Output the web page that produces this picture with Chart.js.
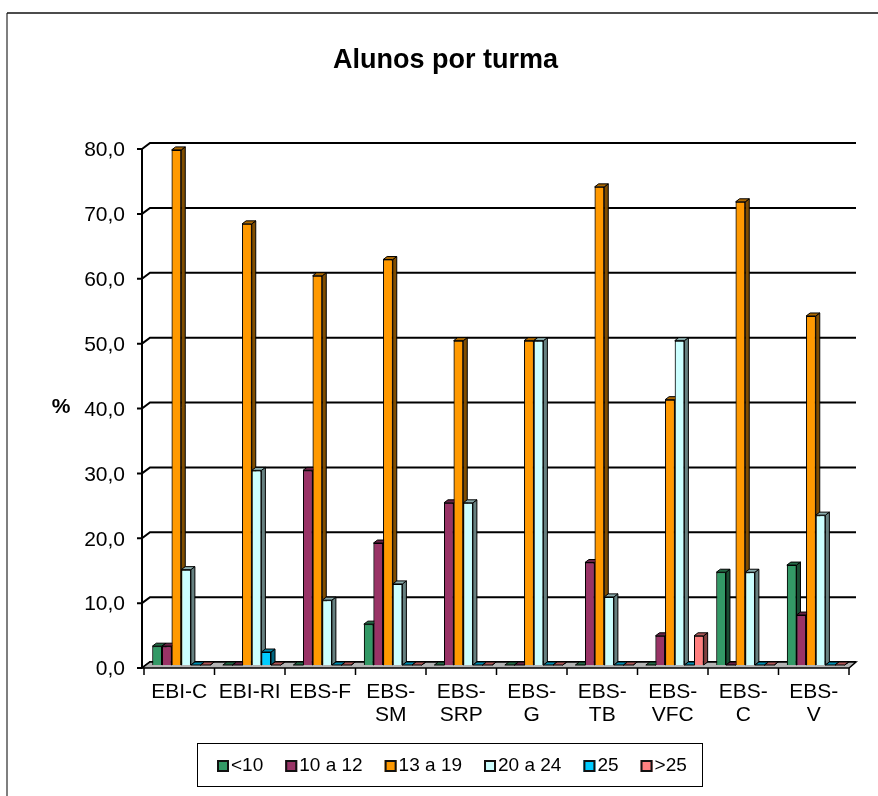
<!DOCTYPE html>
<html>
<head>
<meta charset="utf-8">
<title>Alunos por turma</title>
<script src="https://cdn.jsdelivr.net/npm/chart.js@4.4.1/dist/chart.umd.min.js"></script>
<style>
  html, body { margin: 0; padding: 0; background: #fff; }
  canvas { display: block; }
</style>
</head>
<body>
<canvas id="grafico" width="878" height="796"></canvas>
<script>
// Escolas (categorias) e percentagem de turmas por escalão de número de alunos
const escolas = [["EBI-C"], ["EBI-RI"], ["EBS-F"], ["EBS-", "SM"], ["EBS-", "SRP"], ["EBS-", "G"], ["EBS-", "TB"], ["EBS-", "VFC"], ["EBS-", "C"], ["EBS-", "V"]];
const escaloes = ["<10", "10 a 12", "13 a 19", "20 a 24", "25", ">25"];
const menos10 = [2.9, 0, 0, 6.3, 0, 0, 0, 0, 14.3, 15.4];
const de10a12 = [2.9, 0, 30.0, 18.8, 25.0, 0, 15.8, 4.5, 0, 7.7];
const de13a19 = [79.4, 68.0, 60.0, 62.5, 50.0, 50.0, 73.7, 40.9, 71.4, 53.8];
const de20a24 = [14.7, 30.0, 10.0, 12.5, 25.0, 50.0, 10.5, 50.0, 14.3, 23.1];
const igual25 = [0, 2.0, 0, 0, 0, 0, 0, 0, 0, 0];
const mais25 = [0, 0, 0, 0, 0, 0, 0, 4.5, 0, 0];
const marcasY = [0, 10, 20, 30, 40, 50, 60, 70, 80];
const cores = ["#339966", "#993366", "#FF9900", "#CCFFFF", "#00CCFF", "#FF8080"];

const series = [menos10, de10a12, de13a19, de20a24, igual25, mais25];

Chart.defaults.font.family = '"Liberation Sans", Arial, Helvetica, sans-serif';
Chart.defaults.color = '#000';

// escurece uma cor para as faces laterais e superiores das colunas
function sombra(hex, f) {
  const n = parseInt(hex.slice(1), 16);
  const r = (n >> 16) & 255, g = (n >> 8) & 255, b = n & 255;
  return 'rgb(' + Math.round(r * f) + ',' + Math.round(g * f) + ',' + Math.round(b * f) + ')';
}

const PX = 4, PY = 3;   // profundidade das colunas
const WX = 8, WY = 6;   // profundidade da parede e do chão

// moldura, parede de fundo, chão e eixos em perspetiva
const cenario = {
  id: 'cenario',
  beforeDraw(chart) {
    const ctx = chart.ctx;
    ctx.save();
    ctx.fillStyle = '#fff';
    ctx.fillRect(0, 0, chart.width, chart.height);
    ctx.strokeStyle = '#555';
    ctx.lineWidth = 1.5;
    ctx.beginPath();
    ctx.moveTo(7, chart.height);
    ctx.lineTo(7, 13);
    ctx.stroke();
    ctx.strokeStyle = '#111';
    ctx.beginPath();
    ctx.moveTo(7, 13);
    ctx.lineTo(chart.width, 13);
    ctx.stroke();
    ctx.restore();
  },
  beforeDatasetsDraw(chart) {
    const { ctx, chartArea: a, scales: { x, y } } = chart;
    const fx = a.left - 4;
    const bx = fx + WX;
    const fim = a.right + 5;
    const y0 = y.getPixelForValue(0);
    ctx.save();
    ctx.lineCap = 'butt';
    // linhas de grelha na parede de fundo
    ctx.strokeStyle = '#000';
    ctx.lineWidth = 2;
    marcasY.forEach(v => {
      const py = y.getPixelForValue(v);
      ctx.beginPath();
      ctx.moveTo(fx, py + WY / 2);
      ctx.lineTo(bx, py - WY / 2);
      ctx.lineTo(fim, py - WY / 2);
      ctx.stroke();
    });
    // chão
    ctx.beginPath();
    ctx.moveTo(fx, y0 + WY / 2);
    ctx.lineTo(bx, y0 - WY / 2);
    ctx.lineTo(fim, y0 - WY / 2);
    ctx.lineTo(a.right - 2, y0 + WY / 2);
    ctx.closePath();
    ctx.fillStyle = '#b4b4b4';
    ctx.fill();
    ctx.lineWidth = 1.5;
    ctx.stroke();
    // eixo vertical e respetivas marcas
    ctx.lineWidth = 2;
    ctx.beginPath();
    ctx.moveTo(fx, y.getPixelForValue(80) + WY / 2);
    ctx.lineTo(fx, y0 + WY / 2);
    marcasY.forEach(v => {
      const py = y.getPixelForValue(v) + WY / 2;
      ctx.moveTo(fx - 5, py);
      ctx.lineTo(fx, py);
    });
    ctx.stroke();
    // marcas entre categorias
    const larg = x.getPixelForValue(1) - x.getPixelForValue(0);
    ctx.lineWidth = 1.5;
    ctx.beginPath();
    for (let i = 0; i <= escolas.length; i++) {
      const px = x.getPixelForValue(0) - larg / 2 + i * larg - 2;
      ctx.moveTo(px, y0 + WY / 2);
      ctx.lineTo(px, y0 + WY / 2 + 7);
    }
    ctx.stroke();
    // título do eixo vertical
    ctx.font = 'bold 21px "Liberation Sans", Arial, sans-serif';
    ctx.textAlign = 'center';
    ctx.textBaseline = 'middle';
    ctx.fillStyle = '#000';
    ctx.fillText('%', 61, y.getPixelForValue(40) + 2);
    ctx.restore();
  },
  // colunas em 3D: frente desenhada pelo Chart.js, topo e lado acrescentados
  afterDatasetsDraw(chart) {
    const ctx = chart.ctx;
    const metas = chart.data.datasets.map((d, k) => chart.getDatasetMeta(k));
    ctx.save();
    ctx.lineWidth = 1;
    ctx.strokeStyle = '#000';
    ctx.lineJoin = 'miter';
    for (let i = 0; i < escolas.length; i++) {
      metas.forEach((meta, k) => {
        const el = meta.data[i];
        el.draw(ctx);
        const { x, y, base, width } = el.getProps(['x', 'y', 'base', 'width'], true);
        const esq = x - width / 2, dir = x + width / 2;
        const cor = cores[k];
        // face lateral
        ctx.beginPath();
        ctx.moveTo(dir, y);
        ctx.lineTo(dir + PX, y - PY);
        ctx.lineTo(dir + PX, base - PY);
        ctx.lineTo(dir, base);
        ctx.closePath();
        ctx.fillStyle = sombra(cor, 0.5);
        ctx.fill();
        ctx.stroke();
        // face superior
        ctx.beginPath();
        ctx.moveTo(esq, y);
        ctx.lineTo(esq + PX, y - PY);
        ctx.lineTo(dir + PX, y - PY);
        ctx.lineTo(dir, y);
        ctx.closePath();
        ctx.fillStyle = sombra(cor, 0.68);
        ctx.fill();
        ctx.stroke();
      });
    }
    ctx.restore();
  },
  // legenda com caixa
  afterDraw(chart) {
    const ctx = chart.ctx;
    ctx.save();
    ctx.strokeStyle = '#000';
    ctx.lineWidth = 1;
    ctx.strokeRect(197.5, 743.5, 505, 43);
    ctx.font = '19px "Liberation Sans", Arial, sans-serif';
    ctx.textBaseline = 'middle';
    ctx.textAlign = 'left';
    let px = 217;
    const cy = 766;
    chart.data.datasets.forEach(ds => {
      ctx.fillStyle = ds.backgroundColor;
      ctx.fillRect(px, cy - 6, 12, 12);
      ctx.lineWidth = 2;
      ctx.strokeStyle = '#111';
      ctx.strokeRect(px + 1, cy - 5, 10, 10);
      ctx.fillStyle = '#000';
      ctx.fillText(ds.label, px + 14, cy);
      px += 14 + ctx.measureText(ds.label).width + 22;
    });
    ctx.restore();
  }
};

new Chart(document.getElementById('grafico'), {
  type: 'bar',
  data: {
    labels: escolas,
    datasets: escaloes.map((nome, k) => ({
      label: nome,
      data: series[k],
      backgroundColor: cores[k],
      borderColor: '#000',
      borderWidth: 1,
      categoryPercentage: 0.82,
      barPercentage: 1.0
    }))
  },
  options: {
    responsive: false,
    animation: false,
    devicePixelRatio: 1,
    events: [],
    layout: { padding: { left: 40, right: 27, top: 0, bottom: 54 } },
    plugins: {
      legend: { display: false },
      tooltip: { enabled: false },
      title: {
        display: true,
        text: 'Alunos por turma',
        color: '#000',
        font: { size: 27, weight: 'bold' },
        padding: { top: 44, bottom: 69.6 }
      }
    },
    scales: {
      x: {
        offset: true,
        grid: { display: false, drawTicks: false },
        border: { display: false },
        afterFit: s => { s.height = 77; },
        ticks: {
          padding: 16,
          labelOffset: -2,
          maxRotation: 0,
          minRotation: 0,
          autoSkip: false,
          color: '#000',
          font: { size: 21, lineHeight: 1.07 }
        }
      },
      y: {
        min: 0,
        max: 80,
        afterBuildTicks: s => { s.ticks = marcasY.map(v => ({ value: v })); },
        afterFit: s => { s.width = 106; },
        grid: { display: false, drawTicks: false },
        border: { display: false },
        ticks: {
          padding: 21,
          labelOffset: 4.5,
          color: '#000',
          font: { size: 21 },
          callback: v => v.toFixed(1).replace('.', ',')
        }
      }
    }
  },
  plugins: [cenario]
});
</script>
</body>
</html>
